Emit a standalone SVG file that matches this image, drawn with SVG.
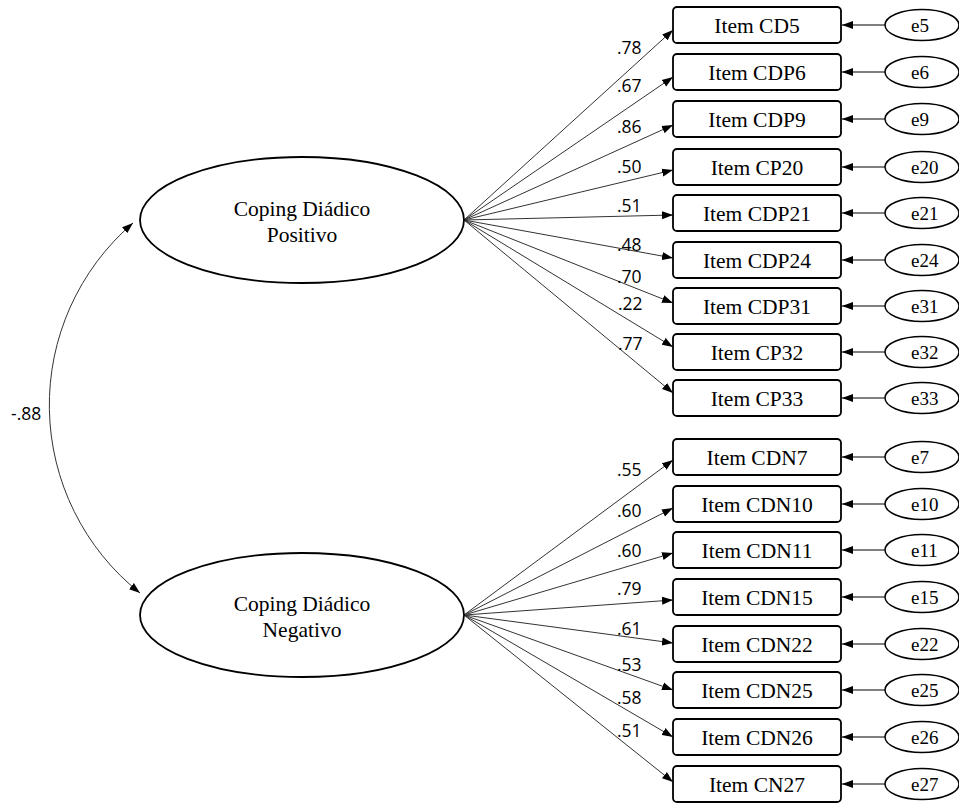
<svg xmlns="http://www.w3.org/2000/svg" width="959" height="803" viewBox="0 0 959 803">
<style>
.box{fill:#fff;stroke:#000;stroke-width:1.8}
.lat{fill:#fff;stroke:#000;stroke-width:1.8}
.err{fill:#fff;stroke:#000;stroke-width:1.5}
.t{font-family:"Liberation Serif","Times New Roman",serif;font-size:21.5px;fill:#000;text-anchor:middle}
.te{font-family:"Liberation Serif","Times New Roman",serif;font-size:19px;fill:#000}
.n{font-family:"Open Sans","Liberation Sans",sans-serif;font-size:17.5px;fill:#000}
.c{fill:none;stroke:#333;stroke-width:1}
.ce{fill:none;stroke:#000;stroke-width:1.2}
</style>
<defs>
<marker id="ah" markerUnits="userSpaceOnUse" markerWidth="12" markerHeight="9" refX="11" refY="4" orient="auto-start-reverse" viewBox="0 0 12 8">
<path d="M0,0 L11,4 L0,8 z" fill="#000"/>
</marker>
</defs>
<g id="connectors">
<path class="c" d="M133,223 A240,240 0 0,0 140,593" marker-start="url(#ah)" marker-end="url(#ah)"/>
<g>
<path class="c" d="M464,220 L673,30" marker-end="url(#ah)"/>
<path class="c" d="M464,220 L673,77" marker-end="url(#ah)"/>
<path class="c" d="M464,220 L673,125" marker-end="url(#ah)"/>
<path class="c" d="M464,220 L673,170" marker-end="url(#ah)"/>
<path class="c" d="M464,220 L673,215" marker-end="url(#ah)"/>
<path class="c" d="M464,220 L673,258" marker-end="url(#ah)"/>
<path class="c" d="M464,220 L673,303" marker-end="url(#ah)"/>
<path class="c" d="M464,220 L673,347" marker-end="url(#ah)"/>
<path class="c" d="M464,220 L673,393" marker-end="url(#ah)"/>
</g>
<g>
<path class="c" d="M464,615 L673,460" marker-end="url(#ah)"/>
<path class="c" d="M464,615 L673,508" marker-end="url(#ah)"/>
<path class="c" d="M464,615 L673,553" marker-end="url(#ah)"/>
<path class="c" d="M464,615 L673,600" marker-end="url(#ah)"/>
<path class="c" d="M464,615 L673,643" marker-end="url(#ah)"/>
<path class="c" d="M464,615 L673,690" marker-end="url(#ah)"/>
<path class="c" d="M464,615 L673,737" marker-end="url(#ah)"/>
<path class="c" d="M464,615 L673,782" marker-end="url(#ah)"/>
</g>
<g>
<path class="ce" d="M885,25 L842,25" marker-end="url(#ah)"/>
<path class="ce" d="M885,72 L842,72" marker-end="url(#ah)"/>
<path class="ce" d="M885,119 L842,119" marker-end="url(#ah)"/>
<path class="ce" d="M885,167 L842,167" marker-end="url(#ah)"/>
<path class="ce" d="M885,213 L842,213" marker-end="url(#ah)"/>
<path class="ce" d="M885,260 L842,260" marker-end="url(#ah)"/>
<path class="ce" d="M885,306 L842,306" marker-end="url(#ah)"/>
<path class="ce" d="M885,352 L842,352" marker-end="url(#ah)"/>
<path class="ce" d="M885,398 L842,398" marker-end="url(#ah)"/>
<path class="ce" d="M885,457 L842,457" marker-end="url(#ah)"/>
<path class="ce" d="M885,504 L842,504" marker-end="url(#ah)"/>
<path class="ce" d="M885,550 L842,550" marker-end="url(#ah)"/>
<path class="ce" d="M885,597 L842,597" marker-end="url(#ah)"/>
<path class="ce" d="M885,644 L842,644" marker-end="url(#ah)"/>
<path class="ce" d="M885,690 L842,690" marker-end="url(#ah)"/>
<path class="ce" d="M885,737 L842,737" marker-end="url(#ah)"/>
<path class="ce" d="M885,784 L842,784" marker-end="url(#ah)"/>
</g>
<g id="labels">
<text class="n" x="11" y="420">-.88</text>
<text class="n" x="617" y="54">.78</text>
<text class="n" x="617" y="92">.67</text>
<text class="n" x="617" y="133">.86</text>
<text class="n" x="617" y="173">.50</text>
<text class="n" x="617" y="212">.51</text>
<text class="n" x="617" y="251">.48</text>
<text class="n" x="617" y="283">.70</text>
<text class="n" x="618" y="310">.22</text>
<text class="n" x="618" y="350">.77</text>
<text class="n" x="617" y="476">.55</text>
<text class="n" x="617" y="517">.60</text>
<text class="n" x="617" y="557">.60</text>
<text class="n" x="617" y="595">.79</text>
<text class="n" x="617" y="635">.61</text>
<text class="n" x="617" y="671">.53</text>
<text class="n" x="617" y="704">.58</text>
<text class="n" x="617" y="737">.51</text>
</g>
</g>
<g id="lat_pos"><ellipse class="lat" cx="302" cy="220" rx="162" ry="63"/><text class="t" x="302" y="216">Coping Diádico</text><text class="t" x="302" y="242">Positivo</text></g>
<g id="lat_neg"><ellipse class="lat" cx="302" cy="615" rx="162" ry="62"/><text class="t" x="302" y="611">Coping Diádico</text><text class="t" x="302" y="637">Negativo</text></g>
<g id="item_cd5"><rect class="box" x="673" y="7" width="168" height="36" rx="4"/><text class="t" x="757" y="33">Item CD5</text></g>
<g id="item_cdp6"><rect class="box" x="673" y="54" width="168" height="36" rx="4"/><text class="t" x="757" y="80">Item CDP6</text></g>
<g id="item_cdp9"><rect class="box" x="673" y="101" width="168" height="36" rx="4"/><text class="t" x="757" y="127">Item CDP9</text></g>
<g id="item_cp20"><rect class="box" x="673" y="149" width="168" height="36" rx="4"/><text class="t" x="757" y="175">Item CP20</text></g>
<g id="item_cdp21"><rect class="box" x="673" y="195" width="168" height="36" rx="4"/><text class="t" x="757" y="221">Item CDP21</text></g>
<g id="item_cdp24"><rect class="box" x="673" y="242" width="168" height="36" rx="4"/><text class="t" x="757" y="268">Item CDP24</text></g>
<g id="item_cdp31"><rect class="box" x="673" y="288" width="168" height="36" rx="4"/><text class="t" x="757" y="314">Item CDP31</text></g>
<g id="item_cp32"><rect class="box" x="673" y="334" width="168" height="36" rx="4"/><text class="t" x="757" y="360">Item CP32</text></g>
<g id="item_cp33"><rect class="box" x="673" y="380" width="168" height="36" rx="4"/><text class="t" x="757" y="406">Item CP33</text></g>
<g id="item_cdn7"><rect class="box" x="673" y="439" width="168" height="36" rx="4"/><text class="t" x="757" y="465">Item CDN7</text></g>
<g id="item_cdn10"><rect class="box" x="673" y="486" width="168" height="36" rx="4"/><text class="t" x="757" y="512">Item CDN10</text></g>
<g id="item_cdn11"><rect class="box" x="673" y="532" width="168" height="36" rx="4"/><text class="t" x="757" y="558">Item CDN11</text></g>
<g id="item_cdn15"><rect class="box" x="673" y="579" width="168" height="36" rx="4"/><text class="t" x="757" y="605">Item CDN15</text></g>
<g id="item_cdn22"><rect class="box" x="673" y="626" width="168" height="36" rx="4"/><text class="t" x="757" y="652">Item CDN22</text></g>
<g id="item_cdn25"><rect class="box" x="673" y="672" width="168" height="36" rx="4"/><text class="t" x="757" y="698">Item CDN25</text></g>
<g id="item_cdn26"><rect class="box" x="673" y="719" width="168" height="36" rx="4"/><text class="t" x="757" y="745">Item CDN26</text></g>
<g id="item_cn27"><rect class="box" x="673" y="766" width="168" height="36" rx="4"/><text class="t" x="757" y="792">Item CN27</text></g>
<g id="e5"><ellipse class="err" cx="922" cy="25" rx="37" ry="15.5"/><text class="te" x="911" y="32">e5</text></g>
<g id="e6"><ellipse class="err" cx="922" cy="72" rx="37" ry="15.5"/><text class="te" x="911" y="79">e6</text></g>
<g id="e9"><ellipse class="err" cx="922" cy="119" rx="37" ry="15.5"/><text class="te" x="911" y="126">e9</text></g>
<g id="e20"><ellipse class="err" cx="922" cy="167" rx="37" ry="15.5"/><text class="te" x="911" y="174">e20</text></g>
<g id="e21"><ellipse class="err" cx="922" cy="213" rx="37" ry="15.5"/><text class="te" x="911" y="220">e21</text></g>
<g id="e24"><ellipse class="err" cx="922" cy="260" rx="37" ry="15.5"/><text class="te" x="911" y="267">e24</text></g>
<g id="e31"><ellipse class="err" cx="922" cy="306" rx="37" ry="15.5"/><text class="te" x="911" y="313">e31</text></g>
<g id="e32"><ellipse class="err" cx="922" cy="352" rx="37" ry="15.5"/><text class="te" x="911" y="359">e32</text></g>
<g id="e33"><ellipse class="err" cx="922" cy="398" rx="37" ry="15.5"/><text class="te" x="911" y="405">e33</text></g>
<g id="e7"><ellipse class="err" cx="922" cy="457" rx="37" ry="15.5"/><text class="te" x="911" y="464">e7</text></g>
<g id="e10"><ellipse class="err" cx="922" cy="504" rx="37" ry="15.5"/><text class="te" x="911" y="511">e10</text></g>
<g id="e11"><ellipse class="err" cx="922" cy="550" rx="37" ry="15.5"/><text class="te" x="911" y="557">e11</text></g>
<g id="e15"><ellipse class="err" cx="922" cy="597" rx="37" ry="15.5"/><text class="te" x="911" y="604">e15</text></g>
<g id="e22"><ellipse class="err" cx="922" cy="644" rx="37" ry="15.5"/><text class="te" x="911" y="651">e22</text></g>
<g id="e25"><ellipse class="err" cx="922" cy="690" rx="37" ry="15.5"/><text class="te" x="911" y="697">e25</text></g>
<g id="e26"><ellipse class="err" cx="922" cy="737" rx="37" ry="15.5"/><text class="te" x="911" y="744">e26</text></g>
<g id="e27"><ellipse class="err" cx="922" cy="784" rx="37" ry="15.5"/><text class="te" x="911" y="791">e27</text></g>
</svg>
